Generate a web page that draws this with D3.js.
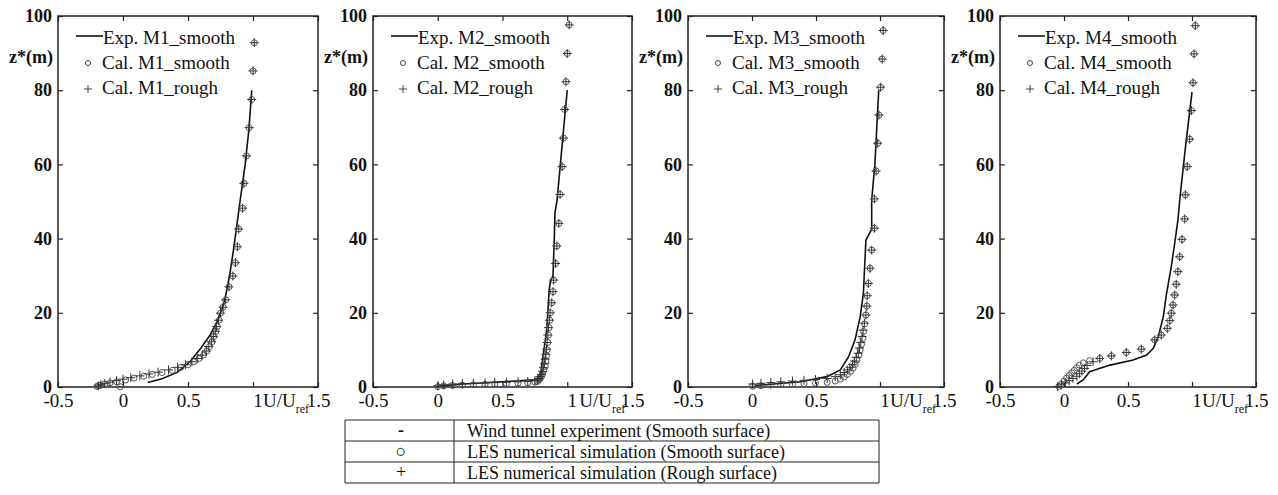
<!DOCTYPE html>
<html>
<head>
<meta charset="utf-8">
<script src="https://cdn.jsdelivr.net/npm/d3@7/dist/d3.min.js"></script>
<style>
  body { margin: 0; background: #fff; }
  text { font-family: "Liberation Serif", "Times New Roman", serif; fill: #111; }
</style>
</head>
<body>
<svg id="chart" width="1278" height="495"></svg>
<script>
// data: [U/Uref, z*(m)]
var panelNames = ["M1", "M2", "M3", "M4"];
var xTicks = [-0.5, 0, 0.5, 1, 1.5];
var xTickLabels = ["-0.5", "0", "0.5", "1", "1.5"];
var yTicks = [0, 20, 40, 60, 80, 100];

var expM1 = [[0.19,1.2],[0.3,2.2],[0.42,4],[0.52,7],[0.6,10.5],[0.67,14],[0.73,18],[0.78,23],[0.82,30],[0.85,37],[0.87,42],[0.9,50],[0.94,60],[0.97,70],[0.99,80]];
var calSmoothM1 = [[-0.02,0.05],[-0.2,0.15],[-0.19,0.35],[-0.17,0.55],[-0.14,0.8],[-0.1,1.1],[-0.05,1.4],[0.02,1.9],[0.085,2.4],[0.16,2.9],[0.225,3.4],[0.3,3.9],[0.38,4.5],[0.445,5.3],[0.5,6.0],[0.545,6.8],[0.585,7.7],[0.62,8.6],[0.645,9.7],[0.665,10.9],[0.685,12.2],[0.7,13.6],[0.715,15.0],[0.725,16.3],[0.74,18.0],[0.75,19.9],[0.77,21.5],[0.79,23.5],[0.815,27],[0.845,29.9],[0.865,33.5],[0.88,37.8],[0.89,42.6],[0.92,48.2],[0.93,54.9],[0.95,62.3],[0.97,69.9],[0.99,77.5],[1.0,85.2],[1.01,92.8]];
var calRoughM1 = [[-0.19,0.3],[-0.17,0.6],[-0.14,0.9],[-0.1,1.3],[-0.05,1.7],[0.0,2.1],[0.06,2.5],[0.13,3.0],[0.2,3.5],[0.27,4.0],[0.35,4.6],[0.42,5.3],[0.48,6.0],[0.53,6.8],[0.575,7.7],[0.61,8.6],[0.64,9.7],[0.66,10.9],[0.68,12.2],[0.695,13.6],[0.71,15.0],[0.72,16.3],[0.735,18.0],[0.75,19.9],[0.77,21.5],[0.79,23.5],[0.815,27],[0.845,29.9],[0.865,33.5],[0.88,37.8],[0.89,42.6],[0.92,48.2],[0.93,54.9],[0.95,62.3],[0.97,69.9],[0.99,77.5],[1.0,85.2],[1.01,92.8]];

var expM2 = [[0.03,0.3],[0.2,0.8],[0.4,1.2],[0.6,1.6],[0.77,2.0],[0.79,3],[0.8,5],[0.82,10],[0.84,15],[0.85,20],[0.86,26],[0.87,28.5],[0.89,30],[0.9,40],[0.905,47],[0.92,50],[0.947,60],[0.973,70],[1.0,80]];
var calSmoothM2 = [[0.0,0.1],[0.046,0.3],[0.115,0.4],[0.19,0.5],[0.275,0.6],[0.365,0.7],[0.44,0.8],[0.53,0.9],[0.62,1.0],[0.695,1.1],[0.75,1.3],[0.77,1.5],[0.78,1.8],[0.79,2.2],[0.8,2.8],[0.81,3.5],[0.82,4.5],[0.83,5.5],[0.835,7],[0.84,8.5],[0.845,10],[0.85,12],[0.855,14],[0.86,16],[0.865,18],[0.87,20],[0.88,22.7],[0.89,25.7],[0.895,28.8],[0.91,33.3],[0.92,38],[0.935,44.1],[0.945,51.9],[0.96,59.4],[0.97,67.1],[0.98,74.8],[0.99,82.3],[1.0,89.9],[1.015,97.6]];
var calRoughM2 = [[0.0,0.3],[0.046,0.6],[0.115,0.8],[0.19,0.9],[0.275,1.0],[0.365,1.1],[0.44,1.2],[0.53,1.3],[0.62,1.4],[0.695,1.5],[0.75,1.7],[0.77,1.9],[0.78,2.3],[0.79,2.8],[0.8,3.4],[0.81,4.2],[0.815,5.2],[0.825,6.3],[0.83,7.5],[0.835,8.8],[0.84,10.2],[0.845,12],[0.85,14],[0.855,16],[0.862,18],[0.868,20],[0.88,22.7],[0.89,25.7],[0.895,28.8],[0.91,33.3],[0.92,38],[0.935,44.1],[0.945,51.9],[0.96,59.4],[0.97,67.1],[0.98,74.8],[0.99,82.3],[1.0,89.9],[1.015,97.6]];

var expM3 = [[0.02,0.4],[0.17,0.8],[0.38,1.4],[0.585,2.8],[0.69,4.6],[0.755,8.2],[0.805,12.7],[0.845,18.9],[0.87,25.2],[0.88,32.4],[0.89,39.6],[0.935,42.5],[0.935,50.4],[0.96,60],[0.975,70],[0.99,80]];
var calSmoothM3 = [[0.005,0.2],[0.07,0.35],[0.147,0.5],[0.225,0.6],[0.316,0.75],[0.406,0.9],[0.496,1.05],[0.587,1.25],[0.65,1.6],[0.69,2.1],[0.72,2.7],[0.745,3.4],[0.77,4.2],[0.79,5.1],[0.805,6.1],[0.82,7.3],[0.835,8.6],[0.845,10],[0.855,11.5],[0.865,13.1],[0.872,15],[0.88,17],[0.89,19.4],[0.897,21.8],[0.9,24.6],[0.909,27.9],[0.922,32],[0.935,36.9],[0.956,42.8],[0.956,50.7],[0.969,58.2],[0.982,65.7],[0.992,73.3],[1.005,80.8],[1.017,88.4],[1.025,96.1]];
var calRoughM3 = [[0.005,0.8],[0.07,1.0],[0.147,1.2],[0.225,1.4],[0.316,1.6],[0.406,1.8],[0.496,2.0],[0.587,2.3],[0.65,2.8],[0.69,3.3],[0.72,3.9],[0.745,4.6],[0.765,5.3],[0.785,6.1],[0.8,7.0],[0.815,8.0],[0.83,9.1],[0.84,10.5],[0.85,12],[0.86,13.6],[0.868,15.3],[0.878,17.2],[0.89,19.4],[0.897,21.8],[0.9,24.6],[0.909,27.9],[0.922,32],[0.935,36.9],[0.956,42.8],[0.956,50.7],[0.969,58.2],[0.982,65.7],[0.992,73.3],[1.005,80.8],[1.017,88.4],[1.025,96.1]];

var expM4 = [[0.1,0.8],[0.15,1.9],[0.2,4.1],[0.36,5.9],[0.54,7.3],[0.646,8.6],[0.698,10.4],[0.737,13.6],[0.776,19],[0.8,25],[0.838,32.4],[0.87,40],[0.89,45],[0.904,50.4],[0.95,65],[1.0,79.5]];
var calSmoothM4 = [[-0.04,0.2],[-0.02,0.8],[0.0,1.6],[0.02,2.4],[0.04,3.1],[0.06,3.8],[0.08,4.5],[0.1,5.2],[0.12,5.9],[0.15,6.5],[0.2,7.1],[0.28,7.7],[0.37,8.4],[0.487,9.3],[0.604,10.2],[0.709,12.7],[0.76,14],[0.807,15.8],[0.826,17.9],[0.838,19.9],[0.852,22.1],[0.865,24.8],[0.877,27.7],[0.89,31.1],[0.904,35.1],[0.922,39.8],[0.943,45.3],[0.948,51.8],[0.963,59.4],[0.982,66.8],[0.995,74.5],[1.008,82],[1.016,89.8],[1.026,97.4]];
var calRoughM4 = [[-0.05,0.1],[-0.02,0.6],[0.01,1.1],[0.04,1.7],[0.07,2.3],[0.1,2.9],[0.12,3.6],[0.14,4.3],[0.16,5.0],[0.18,5.8],[0.227,6.8],[0.279,7.7],[0.37,8.4],[0.487,9.3],[0.604,10.2],[0.709,12.7],[0.76,14],[0.807,15.8],[0.826,17.9],[0.838,19.9],[0.852,22.1],[0.865,24.8],[0.877,27.7],[0.89,31.1],[0.904,35.1],[0.922,39.8],[0.943,45.3],[0.948,51.8],[0.963,59.4],[0.982,66.8],[0.995,74.5],[1.008,82],[1.016,89.8],[1.026,97.4]];

var tableSymbols = ["-", "\u25CB", "+"];
var tableLabels = [
  "Wind tunnel experiment (Smooth surface)",
  "LES numerical simulation (Smooth surface)",
  "LES numerical simulation (Rough surface)"
];

var expData = [expM1, expM2, expM3, expM4];
var smoothData = [calSmoothM1, calSmoothM2, calSmoothM3, calSmoothM4];
var roughData = [calRoughM1, calRoughM2, calRoughM3, calRoughM4];

var svg = d3.select("#chart");
var panelLeft = [58, 373, 688, 1000];
var panelWidth = [260, 259, 256, 256];
var plotTop = 16, plotBottom = 387;
var uLabelGap = [10, 12, 10, 10];

function crossPath(x, y, s) {
  return "M" + (x - s) + "," + y + "H" + (x + s) + "M" + x + "," + (y - s) + "V" + (y + s);
}

panelNames.forEach(function (name, i) {
  var g = svg.append("g").attr("transform", "translate(" + panelLeft[i] + ",0)");
  var w = panelWidth[i];
  var x = d3.scaleLinear().domain([-0.5, 1.5]).range([0, w]);
  var y = d3.scaleLinear().domain([0, 100]).range([plotBottom, plotTop]);

  // axes, ticks pointing inward on all four sides
  var ax = g.append("g").attr("transform", "translate(0," + plotBottom + ")")
    .call(d3.axisBottom(x).tickValues(xTicks).tickSizeInner(-5).tickSizeOuter(0)
      .tickFormat(function (d, k) { return xTickLabels[k]; }));
  ax.selectAll("text").attr("y", 20).attr("dy", null)
    .attr("dx", function (d) { return d === 1 ? 4.5 : 0; })
    .style("font-size", "19px").style("font-family", "'Liberation Serif', serif").attr("fill", "#111");
  var ay = g.append("g")
    .call(d3.axisLeft(y).tickValues(yTicks).tickSizeInner(-5).tickSizeOuter(0).tickPadding(6));
  ay.selectAll("text").style("font-size", "18px").style("font-weight", "bold")
    .style("font-family", "'Liberation Serif', serif").attr("fill", "#111");
  g.append("g").attr("transform", "translate(0," + plotTop + ")")
    .call(d3.axisTop(x).tickValues(xTicks).tickSizeInner(-5).tickSizeOuter(0).tickFormat(""));
  g.append("g").attr("transform", "translate(" + w + ",0)")
    .call(d3.axisRight(y).tickValues(yTicks).tickSizeInner(-5).tickSizeOuter(0).tickFormat(""));
  g.selectAll(".domain").remove();
  g.selectAll(".tick line").attr("stroke", "#222").attr("stroke-width", 1.2);

  g.append("rect").attr("x", 0).attr("y", plotTop).attr("width", w).attr("height", plotBottom - plotTop)
    .attr("fill", "none").attr("stroke", "#222").attr("stroke-width", 1.5);

  // axis titles
  g.append("text").attr("x", -5).attr("y", 63).attr("text-anchor", "end")
    .style("font-size", "18px").style("font-weight", "bold").text("z*(m)");
  var ut = g.append("text").attr("x", x(1) + uLabelGap[i]).attr("y", 407).style("font-size", "19px");
  ut.append("tspan").text("U/U");
  ut.append("tspan").attr("dy", 6).style("font-size", "12px").text("ref");

  // experiment line
  var line = d3.line().x(function (d) { return x(d[0]); }).y(function (d) { return y(d[1]); });
  g.append("path").datum(expData[i]).attr("d", line)
    .attr("fill", "none").attr("stroke", "#111").attr("stroke-width", 1.6);

  // LES markers
  g.selectAll(".smooth").data(smoothData[i]).enter().append("circle")
    .attr("class", "smooth")
    .attr("cx", function (d) { return x(d[0]); }).attr("cy", function (d) { return y(d[1]); })
    .attr("r", 3).attr("fill", "none").attr("stroke", "#555").attr("stroke-width", 1);
  g.selectAll(".rough").data(roughData[i]).enter().append("path")
    .attr("class", "rough")
    .attr("d", function (d) { return crossPath(x(d[0]), y(d[1]), 4.5); })
    .attr("fill", "none").attr("stroke", "#333").attr("stroke-width", 1);

  // legend
  var lg = g.append("g");
  lg.append("line").attr("x1", 18).attr("x2", 45).attr("y1", 36).attr("y2", 36)
    .attr("stroke", "#111").attr("stroke-width", 1.6);
  lg.append("circle").attr("cx", 30).attr("cy", 63).attr("r", 2.5)
    .attr("fill", "none").attr("stroke", "#444").attr("stroke-width", 1);
  lg.append("path").attr("d", crossPath(30, 89, 4)).attr("stroke", "#444").attr("stroke-width", 1);
  var legendText = ["Exp. " + name + "_smooth", "Cal. " + name + "_smooth", "Cal. " + name + "_rough"];
  var legendY = [44, 69, 94];
  legendText.forEach(function (t, k) {
    lg.append("text").attr("x", k === 0 ? 45 : 44).attr("y", legendY[k])
      .style("font-size", "19px").text(t);
  });
});

// legend table
var tbl = svg.append("g");
var tx0 = 345, tx1 = 879, tdiv = 454, ty0 = 420, rowH = 21;
tbl.append("line").attr("x1", tx0).attr("x2", tx1).attr("y1", ty0).attr("y2", ty0)
  .attr("stroke", "#222").attr("stroke-width", 1);
tableLabels.forEach(function (t, k) {
  var yb = ty0 + rowH * (k + 1);
  tbl.append("line").attr("x1", tx0).attr("x2", tx1).attr("y1", yb).attr("y2", yb)
    .attr("stroke", "#222").attr("stroke-width", 1);
  tbl.append("text").attr("x", 401).attr("y", yb - 5).attr("text-anchor", "middle")
    .style("font-size", "18px").style("font-weight", k === 0 ? "bold" : "normal")
    .attr("fill", "#333").text(tableSymbols[k]);
  tbl.append("text").attr("x", 467).attr("y", yb - 4)
    .style("font-size", "18px").text(t);
});
[tx0, tdiv, tx1].forEach(function (xv) {
  tbl.append("line").attr("x1", xv).attr("x2", xv).attr("y1", ty0).attr("y2", ty0 + rowH * 3)
    .attr("stroke", "#222").attr("stroke-width", 1);
});
</script>
</body>
</html>
